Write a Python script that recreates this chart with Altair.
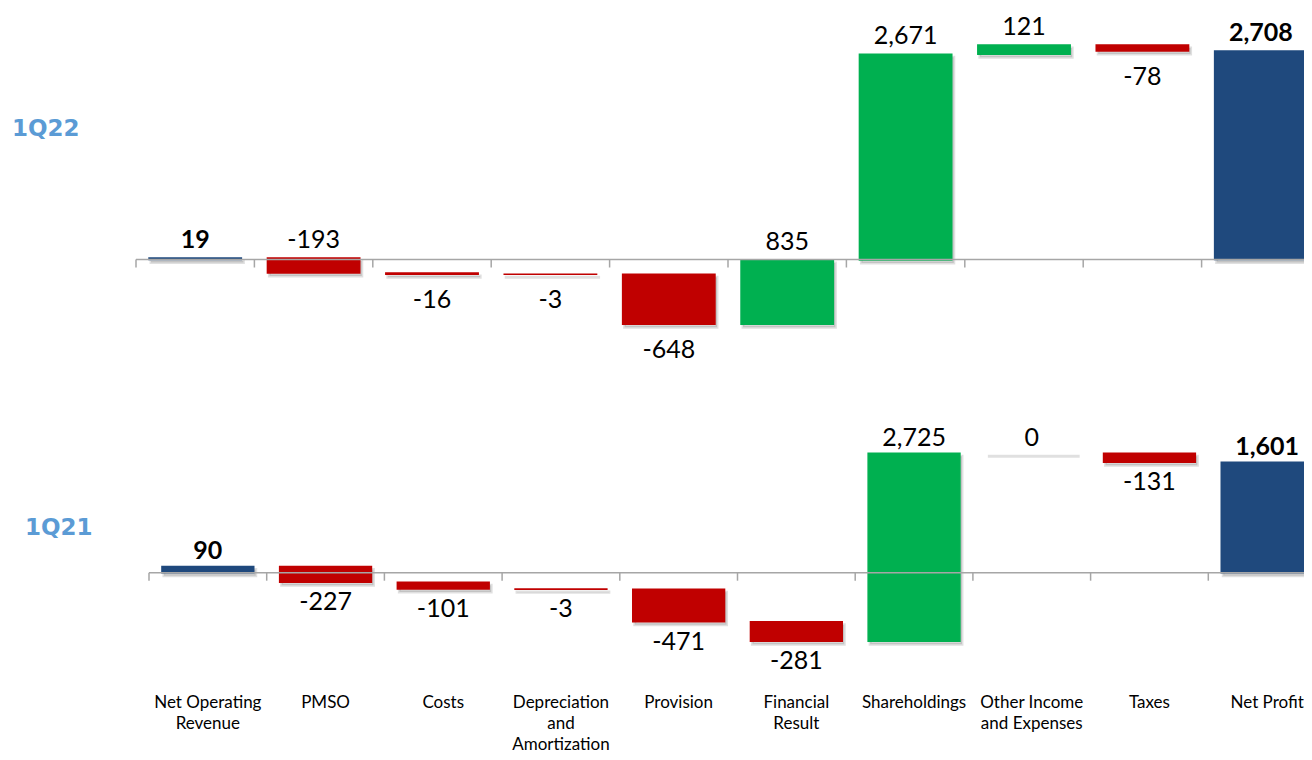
import json
import altair as alt
import pandas as pd

# ---------------- data ----------------
CATEGORIES = [
    "Net Operating Revenue", "PMSO", "Costs", "Depreciation and Amortization",
    "Provision", "Financial Result", "Shareholdings",
    "Other Income and Expenses", "Taxes", "Net Profit",
]
PERIODS = ["1Q22", "1Q21"]
VALUES_1Q22 = [19, -193, -16, -3, -648, 835, 2671, 121, -78, 2708]
VALUES_1Q21 = [90, -227, -101, -3, -471, -281, 2725, 0, -131, 1601]

# ---------------- styling / layout ----------------
LINE_BREAKS = {
    "Net Operating Revenue": ["Net Operating", "Revenue"],
    "Depreciation and Amortization": ["Depreciation", "and", "Amortization"],
    "Financial Result": ["Financial", "Result"],
    "Other Income and Expenses": ["Other Income", "and Expenses"],
}
LABEL_ABOVE_OVERRIDES = {("1Q22", "PMSO")}

NAVY, GREEN, RED = "#1F497D", "#00B050", "#C00000"
AXIS_GRAY = "#A6A6A6"
PERIOD_COLOR = "#5B9BD5"

PLOT_W, PLOT_H = 1168, 672
PAD = {"left": 128, "top": 0, "right": 0, "bottom": 72}

PANELS = {
    "1Q22": dict(x_range=[0, 1184], zero_px=251.5, px_per_unit=0.077,
                 up_dy=-10, down_dy=14, label_x=-124, label_y=121),
    "1Q21": dict(x_range=[13, 1190], zero_px=564.7, px_per_unit=0.069,
                 up_dy=-7, down_dy=8, label_x=-111, label_y=520),
}


def build_frame(period, values):
    rows, running = [], 0
    n = len(values)
    for i, (cat, v) in enumerate(zip(CATEGORIES, values)):
        total = i == 0 or i == n - 1
        if total:
            start, end = 0, v
            running = v
            kind = "total"
        else:
            start, end = running, running + v
            running = end
            kind = "up" if v > 0 else ("down" if v < 0 else "none")
        side = "above" if v >= 0 else "below"
        if (period, cat) in LABEL_ABOVE_OVERRIDES:
            side = "above"
        rows.append(dict(
            cat=cat, idx=i, value=v, start=start, end=end, kind=kind,
            top=max(start, end), bottom=min(start, end),
            label=f"{v:,}", side=side, bold=total,
        ))
    return pd.DataFrame(rows)


parts = [f"datum.label === {json.dumps(k)} ? {json.dumps(v)}" for k, v in LINE_BREAKS.items()]
LABEL_EXPR = " : ".join(parts) + " : datum.label"

color_scale = alt.Scale(domain=["total", "up", "down", "none"],
                        range=[NAVY, GREEN, RED, "transparent"])


def panel(period, values, show_axis):
    cfg = PANELS[period]
    df = build_frame(period, values)
    hi = cfg["zero_px"] / cfg["px_per_unit"]
    lo = -(PLOT_H - cfg["zero_px"]) / cfg["px_per_unit"]
    xscale = alt.Scale(domain=CATEGORIES, range=cfg["x_range"], paddingInner=0, paddingOuter=0)
    yscale = alt.Scale(domain=[lo, hi], nice=False, zero=False)
    if show_axis:
        axis = alt.Axis(
            orient="bottom", title=None, domain=False, ticks=False, grid=False,
            labelAngle=0, labelFont="Lato", labelFontSize=17, labelColor="#000000",
            labelPadding=14, labelLineHeight=21, labelExpr=LABEL_EXPR,
            labelOverlap=False, labelLimit=300, labelBaseline="top",
        )
    else:
        axis = None

    def X(**kw):
        return alt.X("cat:N", sort=CATEGORIES, scale=xscale, axis=axis, **kw)

    def Y(field):
        return alt.Y(f"{field}:Q", scale=yscale, axis=None)

    base = alt.Chart(df)
    bw = alt.RelativeBandSize(0.78)

    shadow = base.mark_bar(
        width=bw, xOffset=2, yOffset=3, y2Offset=3,
        fill="#000000", fillOpacity=0.13, stroke="#000000", strokeOpacity=0.12, strokeWidth=3,
    ).encode(x=X(), y=Y("start"), y2=alt.Y2("end:Q"))

    bars = base.mark_bar(width=bw, strokeWidth=1.5).encode(
        x=X(), y=Y("start"), y2=alt.Y2("end:Q"),
        color=alt.Color("kind:N", scale=color_scale, legend=None),
        stroke=alt.Stroke("kind:N", scale=color_scale, legend=None),
    )

    zero_line = base.transform_filter("datum.idx == 0").mark_rule(
        color=AXIS_GRAY, strokeWidth=1.5
    ).encode(x=X(bandPosition=0), x2=alt.value(PLOT_W),
             y=alt.YDatum(0, scale=yscale, axis=None))

    ticks = base.mark_rule(color=AXIS_GRAY, strokeWidth=1.5, y2Offset=8).encode(
        x=X(bandPosition=0),
        y=alt.YDatum(0, scale=yscale, axis=None), y2=alt.Y2Datum(0),
    )

    txt = dict(font="Lato", fontSize=25, color="#000000")
    above = base.transform_filter("datum.side == 'above' && !datum.bold").mark_text(
        baseline="alphabetic", dy=cfg["up_dy"], **txt
    ).encode(x=X(), y=Y("top"), text="label:N")
    above_bold = base.transform_filter("datum.side == 'above' && datum.bold").mark_text(
        baseline="alphabetic", dy=cfg["up_dy"], fontWeight="bold", **txt
    ).encode(x=X(), y=Y("top"), text="label:N")
    below = base.transform_filter("datum.side == 'below'").mark_text(
        baseline="top", dy=cfg["down_dy"], **txt
    ).encode(x=X(), y=Y("bottom"), text="label:N")

    period_label = alt.Chart(pd.DataFrame({"p": [period]})).mark_text(
        align="left", baseline="middle", font="DejaVu Sans", fontWeight="bold",
        fontSize=23, color=PERIOD_COLOR,
    ).encode(text="p:N", x=alt.value(cfg["label_x"]), y=alt.value(cfg["label_y"]))

    return alt.layer(shadow, bars, zero_line, ticks, above, above_bold, below, period_label)


bottom_panel = panel("1Q21", VALUES_1Q21, show_axis=True)
top_panel = panel("1Q22", VALUES_1Q22, show_axis=False)

chart = alt.layer(bottom_panel, top_panel).resolve_scale(
    x="independent", y="independent"
).properties(
    width=PLOT_W, height=PLOT_H,
    autosize=alt.AutoSizeParams(type="none"),
    padding=PAD,
    background="#FFFFFF",
).configure_view(stroke=None)

chart.save("out.html", embed_options={"renderer": "svg", "actions": False})
